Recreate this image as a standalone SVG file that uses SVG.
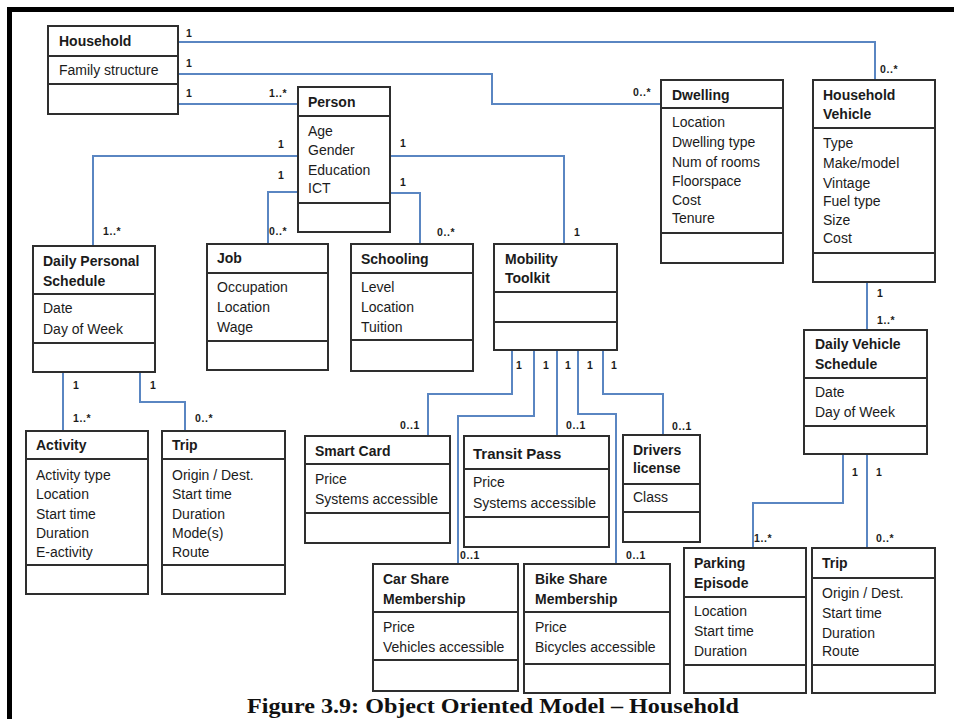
<svg xmlns="http://www.w3.org/2000/svg" width="954" height="719" viewBox="0 0 954 719">
<style>
.box{fill:#fff;stroke:#2e2e2e;stroke-width:2}
.div{stroke:#2e2e2e;stroke-width:2}
.t{font-family:"Liberation Sans",Arial,sans-serif;font-size:14px;font-weight:bold;fill:#1b1b1b}
.a{font-family:"Liberation Sans",Arial,sans-serif;font-size:14px;fill:#1b1b1b}
.m{font-family:"Liberation Sans",Arial,sans-serif;font-size:10.5px;font-weight:bold;fill:#1b1b1b;letter-spacing:0.6px}
.c{fill:none;stroke:#5a86c2;stroke-width:2}
.cap{font-family:"Liberation Serif","Times New Roman",serif;font-size:22px;font-weight:bold;fill:#111}
</style>
<rect width="954" height="719" fill="#fff"/>
<path d="M9.5,719 V9.5 H954" fill="none" stroke="#000" stroke-width="5"/>

<g id="connectors">
<path class="c" d="M178,42 H875 V80"/>
<path class="c" d="M178,74 H492 V104 H661"/>
<path class="c" d="M178,104 H298"/>
<path class="c" d="M298,156 H93 V246"/>
<path class="c" d="M298,192 H268 V244"/>
<path class="c" d="M390,156 H564 V244"/>
<path class="c" d="M390,193 H420 V244"/>
<path class="c" d="M512,350 V394 H428 V436"/>
<path class="c" d="M534,350 V416 H458 V564"/>
<path class="c" d="M557,350 V436"/>
<path class="c" d="M578,350 V414 H616 V564"/>
<path class="c" d="M603,350 V394 H663 V435"/>
<path class="c" d="M867,282 V330"/>
<path class="c" d="M843,454 V503 H753 V548"/>
<path class="c" d="M867,454 V548"/>
<path class="c" d="M63,372 V431"/>
<path class="c" d="M140,372 V402 H185 V431"/>
<text class="m" x="186" y="37">1</text>
<text class="m" x="186" y="67">1</text>
<text class="m" x="186" y="97">1</text>
<text class="m" x="269" y="97">1..*</text>
<text class="m" x="880" y="73">0..*</text>
<text class="m" x="633" y="96">0..*</text>
<text class="m" x="278" y="148">1</text>
<text class="m" x="278" y="179">1</text>
<text class="m" x="103" y="235">1..*</text>
<text class="m" x="269" y="235">0..*</text>
<text class="m" x="400" y="147">1</text>
<text class="m" x="400" y="186">1</text>
<text class="m" x="437" y="236">0..*</text>
<text class="m" x="574" y="236">1</text>
<text class="m" x="516" y="369">1</text>
<text class="m" x="543" y="369">1</text>
<text class="m" x="565" y="369">1</text>
<text class="m" x="587" y="369">1</text>
<text class="m" x="611" y="369">1</text>
<text class="m" x="400" y="429">0..1</text>
<text class="m" x="566" y="429">0..1</text>
<text class="m" x="460" y="559">0..1</text>
<text class="m" x="626" y="559">0..1</text>
<text class="m" x="672" y="430">0..1</text>
<text class="m" x="877" y="297">1</text>
<text class="m" x="877" y="324">1..*</text>
<text class="m" x="852" y="476">1</text>
<text class="m" x="876" y="476">1</text>
<text class="m" x="754" y="542">1..*</text>
<text class="m" x="876" y="542">0..*</text>
<text class="m" x="73" y="389">1</text>
<text class="m" x="150" y="389">1</text>
<text class="m" x="73" y="422">1..*</text>
<text class="m" x="195" y="422">0..*</text>
</g>

<g id="household">
<rect class="box" x="48" y="26" width="130" height="88"/>
<path class="div" d="M48,56 H178 M48,84 H178"/>
<text class="t" x="59" y="46">Household</text>
<text class="a" x="59" y="75">Family structure</text>
</g>

<g id="person">
<rect class="box" x="298" y="87" width="92" height="145"/>
<path class="div" d="M298,116 H390 M298,203 H390"/>
<text class="t" x="308" y="107">Person</text>
<text class="a" x="308" y="136">Age</text>
<text class="a" x="308" y="155">Gender</text>
<text class="a" x="308" y="175">Education</text>
<text class="a" x="308" y="193">ICT</text>
</g>

<g id="dwelling">
<rect class="box" x="661" y="80" width="122" height="183"/>
<path class="div" d="M661,108 H783 M661,233 H783"/>
<text class="t" x="672" y="100">Dwelling</text>
<text class="a" x="672" y="127">Location</text>
<text class="a" x="672" y="147">Dwelling type</text>
<text class="a" x="672" y="167">Num of rooms</text>
<text class="a" x="672" y="186">Floorspace</text>
<text class="a" x="672" y="205">Cost</text>
<text class="a" x="672" y="223">Tenure</text>
</g>

<g id="household-vehicle">
<rect class="box" x="813" y="80" width="122" height="202"/>
<path class="div" d="M813,128 H935 M813,253 H935"/>
<text class="t" x="823" y="100">Household</text>
<text class="t" x="823" y="119">Vehicle</text>
<text class="a" x="823" y="148">Type</text>
<text class="a" x="823" y="168">Make/model</text>
<text class="a" x="823" y="188">Vintage</text>
<text class="a" x="823" y="206">Fuel type</text>
<text class="a" x="823" y="225">Size</text>
<text class="a" x="823" y="243">Cost</text>
</g>

<g id="daily-personal-schedule">
<rect class="box" x="33" y="246" width="122" height="126"/>
<path class="div" d="M33,294 H155 M33,343 H155"/>
<text class="t" x="43" y="266">Daily Personal</text>
<text class="t" x="43" y="286">Schedule</text>
<text class="a" x="43" y="313">Date</text>
<text class="a" x="43" y="334">Day of Week</text>
</g>

<g id="job">
<rect class="box" x="207" y="244" width="121" height="126"/>
<path class="div" d="M207,273 H328 M207,341 H328"/>
<text class="t" x="217" y="263">Job</text>
<text class="a" x="217" y="292">Occupation</text>
<text class="a" x="217" y="312">Location</text>
<text class="a" x="217" y="332">Wage</text>
</g>

<g id="schooling">
<rect class="box" x="351" y="244" width="122" height="127"/>
<path class="div" d="M351,273 H473 M351,340 H473"/>
<text class="t" x="361" y="264">Schooling</text>
<text class="a" x="361" y="292">Level</text>
<text class="a" x="361" y="312">Location</text>
<text class="a" x="361" y="332">Tuition</text>
</g>

<g id="mobility-toolkit">
<rect class="box" x="494" y="244" width="123" height="106"/>
<path class="div" d="M494,292 H617 M494,322 H617"/>
<text class="t" x="505" y="264">Mobility</text>
<text class="t" x="505" y="283">Toolkit</text>
</g>

<g id="daily-vehicle-schedule">
<rect class="box" x="804" y="330" width="123" height="124"/>
<path class="div" d="M804,378 H927 M804,426 H927"/>
<text class="t" x="815" y="349">Daily Vehicle</text>
<text class="t" x="815" y="369">Schedule</text>
<text class="a" x="815" y="397">Date</text>
<text class="a" x="815" y="417">Day of Week</text>
</g>

<g id="activity">
<rect class="box" x="26" y="431" width="122" height="163"/>
<path class="div" d="M26,459 H148 M26,565 H148"/>
<text class="t" x="36" y="450">Activity</text>
<text class="a" x="36" y="480">Activity type</text>
<text class="a" x="36" y="499">Location</text>
<text class="a" x="36" y="519">Start time</text>
<text class="a" x="36" y="538">Duration</text>
<text class="a" x="36" y="557">E-activity</text>
</g>

<g id="trip-person">
<rect class="box" x="162" y="431" width="123" height="163"/>
<path class="div" d="M162,459 H285 M162,565 H285"/>
<text class="t" x="172" y="450">Trip</text>
<text class="a" x="172" y="480">Origin / Dest.</text>
<text class="a" x="172" y="499">Start time</text>
<text class="a" x="172" y="519">Duration</text>
<text class="a" x="172" y="538">Mode(s)</text>
<text class="a" x="172" y="557">Route</text>
</g>

<g id="smart-card">
<rect class="box" x="305" y="436" width="145" height="107"/>
<path class="div" d="M305,464 H450 M305,513 H450"/>
<text class="t" x="315" y="456">Smart Card</text>
<text class="a" x="315" y="484">Price</text>
<text class="a" x="315" y="504">Systems accessible</text>
</g>

<g id="transit-pass">
<rect class="box" x="464" y="436" width="145" height="111"/>
<path class="div" d="M464,469 H609 M464,517 H609"/>
<text class="t" x="473" y="459" style="font-size:15px">Transit Pass</text>
<text class="a" x="473" y="487">Price</text>
<text class="a" x="473" y="508">Systems accessible</text>
</g>

<g id="drivers-license">
<rect class="box" x="623" y="435" width="77" height="107"/>
<path class="div" d="M623,484 H700 M623,512 H700"/>
<text class="t" x="633" y="455">Drivers</text>
<text class="t" x="633" y="473">license</text>
<text class="a" x="633" y="502">Class</text>
</g>

<g id="car-share">
<rect class="box" x="373" y="564" width="145" height="127"/>
<path class="div" d="M373,612 H518 M373,660 H518"/>
<text class="t" x="383" y="584">Car Share</text>
<text class="t" x="383" y="604">Membership</text>
<text class="a" x="383" y="632">Price</text>
<text class="a" x="383" y="652">Vehicles accessible</text>
</g>

<g id="bike-share">
<rect class="box" x="524" y="564" width="146" height="129"/>
<path class="div" d="M524,612 H670 M524,664 H670"/>
<text class="t" x="535" y="584">Bike Share</text>
<text class="t" x="535" y="604">Membership</text>
<text class="a" x="535" y="632">Price</text>
<text class="a" x="535" y="652">Bicycles accessible</text>
</g>

<g id="parking-episode">
<rect class="box" x="684" y="548" width="122" height="145"/>
<path class="div" d="M684,597 H806 M684,665 H806"/>
<text class="t" x="694" y="568">Parking</text>
<text class="t" x="694" y="588">Episode</text>
<text class="a" x="694" y="616">Location</text>
<text class="a" x="694" y="636">Start time</text>
<text class="a" x="694" y="656">Duration</text>
</g>

<g id="trip-vehicle">
<rect class="box" x="812" y="548" width="123" height="145"/>
<path class="div" d="M812,578 H935 M812,665 H935"/>
<text class="t" x="822" y="568">Trip</text>
<text class="a" x="822" y="598">Origin / Dest.</text>
<text class="a" x="822" y="618">Start time</text>
<text class="a" x="822" y="638">Duration</text>
<text class="a" x="822" y="656">Route</text>
</g>

<text class="cap" x="247" y="713" textLength="492" lengthAdjust="spacingAndGlyphs">Figure 3.9: Object Oriented Model – Household</text>
</svg>
